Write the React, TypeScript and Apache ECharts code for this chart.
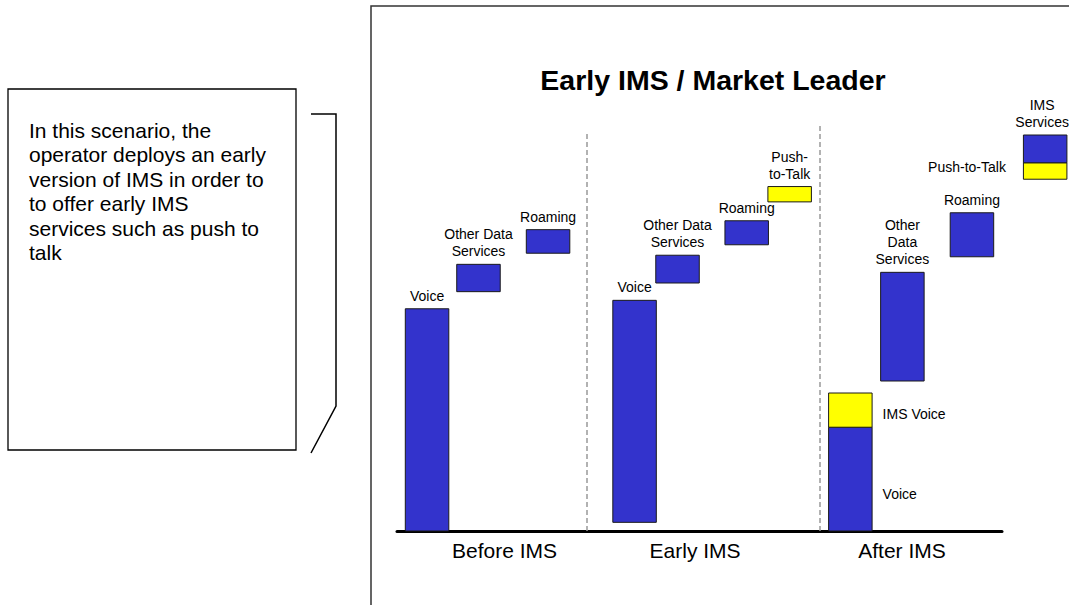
import React, { useEffect, useRef } from "react";
import * as echarts from "echarts";

// ---- data ----
const chartTitle = "Early IMS / Market Leader";
const categories = ["Before IMS", "Early IMS", "After IMS"];
const categoryCenters = [0.533, 1.478, 2.504];
const dividerX = [0.942, 2.0975];

const barLabels = [
  "Voice",
  "Other Data\nServices",
  "Roaming",
  "Voice",
  "Other Data\nServices",
  "Roaming",
  "Push-\nto-Talk",
  "Voice",
  "IMS Voice",
  "Other\nData\nServices",
  "Roaming",
  "Push-to-Talk",
  "IMS\nServices",
];
const barX = [0.149, 0.404, 0.749, 1.178, 1.391, 1.734, 1.947, 2.248, 2.248, 2.506, 2.851, 3.214, 3.214];
const barLow = [0, 107.7, 125.0, 3.9, 111.6, 128.8, 148.1, 0, 46.7, 67.5, 123.4, 158.3, 165.7];
const barHigh = [100, 120.0, 135.6, 103.8, 124.1, 139.6, 155.0, 46.7, 62.1, 116.4, 143.2, 165.7, 178.2];
const barKind = ["legacy", "legacy", "legacy", "legacy", "legacy", "legacy", "ims", "legacy", "ims", "legacy", "legacy", "ims", "legacy"];

const noteText =
  "In this scenario, the\noperator deploys an early\nversion of IMS in order to\nto offer early IMS\nservices such as push to\ntalk";

// ---- styles ----
const FONT = "'Liberation Sans', Arial, Helvetica, sans-serif";
const kindColor: Record<string, string> = { legacy: "#3333CC", ims: "#FFFF00" };
const labelPlacement: Record<number, any> = {
  7: { position: "right", distance: 10, offset: [0, 15], align: "left" },
  8: { position: "right", distance: 10, offset: [0, 4], align: "left" },
  11: { position: "left", distance: 17, offset: [0, -4], align: "right" },
  12: { position: "top", distance: 4, offset: [-3, 0], align: "center" },
};
const dividerTop = [178.7, 182.3];

export default function App() {
  const ref = useRef<HTMLDivElement>(null);

  useEffect(() => {
    if (!ref.current) return;
    const chart = echarts.init(ref.current, undefined, { renderer: "svg" });

    const data = barX.map((x, i) => [x, barLow[i], barHigh[i], i]);

    const option: any = {
      animation: false,
      backgroundColor: "#ffffff",
      grid: { left: 397, right: 67, top: 31, bottom: 74, containLabel: false },
      xAxis: {
        type: "value",
        min: 0,
        max: 3,
        splitLine: { show: false },
        axisTick: { show: false },
        axisLine: { show: true, onZero: false, lineStyle: { color: "#000", width: 3 } },
        axisLabel: {
          show: true,
          customValues: categoryCenters,
          margin: 9,
          fontSize: 21,
          fontFamily: FONT,
          color: "#000",
          formatter: (v: number) => {
            let best = 0;
            categoryCenters.forEach((c, i) => {
              if (Math.abs(c - v) < Math.abs(categoryCenters[best] - v)) best = i;
            });
            return categories[best];
          },
        },
      },
      yAxis: { type: "value", min: 0, max: 225, show: false },
      series: [
        {
          type: "custom",
          clip: false,
          data,
          encode: { x: 0, y: [1, 2] },
          renderItem: (params: any, api: any) => {
            const x = api.value(0);
            const lo = api.value(1);
            const hi = api.value(2);
            const idx = api.value(3);
            const pTop = api.coord([x, hi]);
            const pBot = api.coord([x, lo]);
            const w = 43.5;
            const place = labelPlacement[idx] || { position: "top", distance: 4, align: "center" };
            return {
              type: "rect",
              shape: { x: pTop[0] - w / 2, y: pTop[1], width: w, height: pBot[1] - pTop[1] },
              style: { fill: kindColor[barKind[idx]], stroke: "#1a1a1a", lineWidth: 1 },
              textContent: {
                style: {
                  text: barLabels[idx],
                  fontSize: 14,
                  fontFamily: FONT,
                  fill: "#000",
                  align: place.align,
                  lineHeight: 17,
                },
              },
              textConfig: {
                position: place.position,
                distance: place.distance,
                offset: place.offset,
                outsideFill: "#000",
              },
            };
          },
          markLine: {
            silent: true,
            symbol: "none",
            label: { show: false },
            lineStyle: { type: [5, 3], color: "#999999", width: 1.5 },
            data: dividerX.map((x, i) => [{ coord: [x, 0] }, { coord: [x, dividerTop[i]] }]),
          },
          z: 3,
        },
      ],
      graphic: [
        {
          type: "polyline",
          shape: { points: [[371, 606], [371, 6], [1070, 6]] },
          style: { stroke: "#333", lineWidth: 1.5, fill: "none" },
          z: 0,
        },
        {
          type: "text",
          x: 713,
          y: 80,
          style: {
            text: chartTitle,
            font: `bold 28.5px ${FONT}`,
            fill: "#000",
            align: "center",
            verticalAlign: "middle",
          },
        },
        {
          type: "rect",
          shape: { x: 8, y: 89, width: 288, height: 361 },
          style: { fill: "#fff", stroke: "#000", lineWidth: 1.3 },
        },
        {
          type: "text",
          x: 29,
          y: 118,
          style: {
            text: noteText,
            font: `21px ${FONT}`,
            lineHeight: 24.5,
            fill: "#000",
            align: "left",
            verticalAlign: "top",
          },
        },
        {
          type: "polyline",
          shape: { points: [[311, 114], [336, 114], [336, 406], [311, 453]] },
          style: { stroke: "#000", lineWidth: 1.5, fill: "none" },
        },
      ],
    };

    chart.setOption(option);
    return () => chart.dispose();
  }, []);

  return (
    <div
      ref={ref}
      style={{ position: "absolute", left: 0, top: 0, width: 1069, height: 605 }}
    />
  );
}
